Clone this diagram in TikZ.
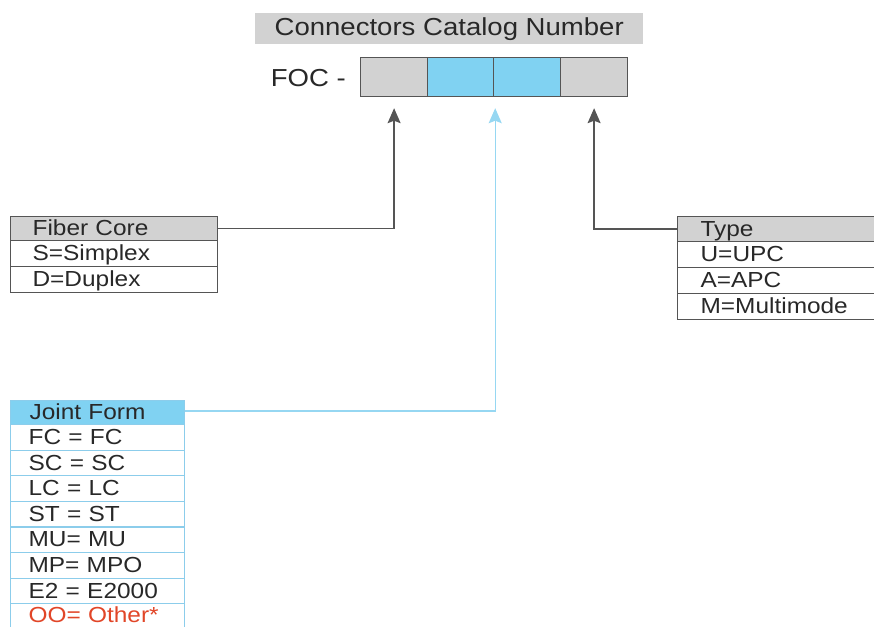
\documentclass[tikz,border=0pt]{standalone}
\usepackage{fontspec}
\setmainfont{Liberation Sans}[FakeStretch=1.12]
\usetikzlibrary{arrows.meta}
\definecolor{boxgray}{RGB}{210,210,210}
\definecolor{skyblue}{RGB}{128,210,242}
\definecolor{lineblue}{RGB}{150,215,242}
\definecolor{rowblue}{RGB}{140,205,235}
\definecolor{txt}{RGB}{40,40,40}
\definecolor{edge}{RGB}{85,85,85}
\definecolor{otherred}{RGB}{225,70,40}
\tikzset{
  cell/.style={draw=edge, line width=1.2pt, minimum height=26pt, anchor=north west,
    inner sep=0pt, text=txt, font=\fontsize{21.8}{24}\selectfont, align=left,
    text depth=0.2ex},
  digit/.style={draw=edge, line width=1.2pt, minimum width=67pt, minimum height=39pt,
    inner sep=0pt, anchor=north west},
  link/.style={draw=edge, line width=1.3pt, -{Stealth[width=13pt,length=15pt,inset=2.5pt]}},
  bluelink/.style={draw=lineblue, line width=1.3pt, -{Stealth[width=13pt,length=15pt,inset=2.5pt]}},
  jcell/.style={draw=rowblue, line width=1.2pt, minimum height=25.6pt, minimum width=174pt,
    anchor=north west, inner sep=0pt, text=txt, font=\fontsize{21.8}{24}\selectfont,
    align=left, text depth=0.2ex}
}
\begin{document}
\begin{tikzpicture}[x=1pt,y=-1pt]
\useasboundingbox (0,0) rectangle (874,626);
% title
\node[fill=boxgray, minimum width=388pt, minimum height=31pt, inner sep=0pt, anchor=north west,
  text=txt, font=\fontsize{24.6}{26}\selectfont] (title) at (255,13) {Connectors Catalog Number};
\node[anchor=east, text=txt, font=\fontsize{24.6}{26}\selectfont, inner sep=0pt] (foc) at (346,78) {FOC -};
% catalog digits
\node[digit, fill=boxgray] (b1) at (360,57) {};
\node[digit, fill=skyblue] (b2) at (427,57) {};
\node[digit, fill=skyblue] (b3) at (493,57) {};
\node[digit, fill=boxgray] (b4) at (560,57) {};
% Fiber Core table
\node[cell, fill=boxgray, minimum width=207pt, minimum height=24pt, text width=163pt] (fc0) at (10,216) {Fiber Core};
\node[cell, minimum width=207pt, text width=163pt] (fc1) at (10,240) {S=Simplex};
\node[cell, minimum width=207pt, text width=163pt] (fc2) at (10,266) {D=Duplex};
% Type table
\node[cell, fill=boxgray, minimum width=210pt, minimum height=25pt, text width=164pt] (ty0) at (677,216) {Type};
\node[cell, minimum width=210pt, text width=164pt] (ty1) at (677,241) {U=UPC};
\node[cell, minimum width=210pt, text width=164pt] (ty2) at (677,267) {A=APC};
\node[cell, minimum width=210pt, text width=164pt] (ty3) at (677,293) {M=Multimode};
% Joint Form table
\node[jcell, fill=skyblue, minimum height=24pt, text width=136pt] (jf0) at (10,400) {Joint Form};
\node[jcell, text width=138pt] (jf1) at (10,424) {FC = FC};
\node[jcell, text width=138pt] (jf2) at (10,449.6) {SC = SC};
\node[jcell, text width=138pt] (jf3) at (10,475.2) {LC = LC};
\node[jcell, text width=138pt] (jf4) at (10,500.8) {ST = ST};
\node[jcell, text width=138pt] (jf5) at (10,526.4) {MU= MU};
\node[jcell, text width=138pt] (jf6) at (10,552) {MP= MPO};
\node[jcell, text width=138pt] (jf7) at (10,577.6) {E2 = E2000};
\node[jcell, draw=none, outer sep=0pt, text width=138pt, text=otherred, minimum height=22.2pt, text depth=0pt] (jf8) at (10.6,603.8) {OO= Other*};
\draw[rowblue, line width=1.2pt] ([yshift=-6pt]jf8.south west) -- (jf8.north west)
  -- (jf8.north east) -- ([yshift=-6pt]jf8.south east);
% connectors
\draw[link] (fc0.east) -| ([yshift=-11pt]b1.south);
\draw[link] (ty0.west) -| ([yshift=-11pt]b4.south);
\draw[bluelink] ([yshift=1.5pt]jf0.east) -| ([yshift=-11pt]b2.south east);
\end{tikzpicture}
\end{document}
